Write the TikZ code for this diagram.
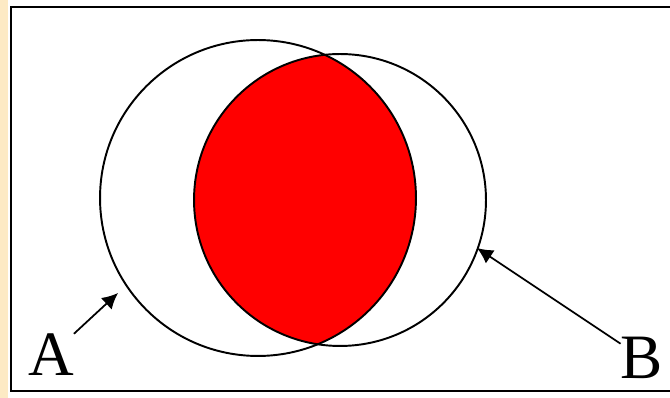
\documentclass[tikz,border=0pt]{standalone}
\usepackage{fontspec}
\newfontfamily\setfont{Liberation Serif}
\usepackage{tikz}
\usetikzlibrary{arrows.meta}
\definecolor{paper}{RGB}{253, 234, 196}
\definecolor{lens}{RGB}{255, 0, 0}
\tikzset{
  setlabel/.style={inner sep=0, font=\setfont\fontsize{36}{36}\selectfont},
  pointer/.style={-{Latex[length=9pt, width=9pt]}, line width=1}
}

\begin{document}
\begin{tikzpicture}[x=0.02cm, y=-0.02cm]

  \useasboundingbox (0, 0) rectangle (670, 398);
  \fill[white] (0, 0) rectangle (670, 398);
  \fill[paper] (0, 0) rectangle (8, 398);

  \draw [line width=1.6] (11, 7) rectangle (672, 391);

  % the two sets
  \coordinate (ca) at (258, 198);
  \coordinate (cb) at (340, 200);

  \begin{scope}
    \clip (ca) circle [radius=3.16cm];
    \fill[lens] (cb) circle [radius=2.92cm];
  \end{scope}

  \draw [line width=1.1] (ca) circle [radius=3.16cm];
  \draw [line width=1.1] (cb) circle [radius=2.92cm];

  \node[setlabel] (A) at (51, 355) {A};
  \node[setlabel] (B) at (642, 358) {B};

  \coordinate (atip) at (118, 293);
  \coordinate (btip) at (477, 248);

  \draw [pointer] (A) -- (atip);
  \draw [pointer] (B) -- (btip);

\end{tikzpicture}
\end{document}
